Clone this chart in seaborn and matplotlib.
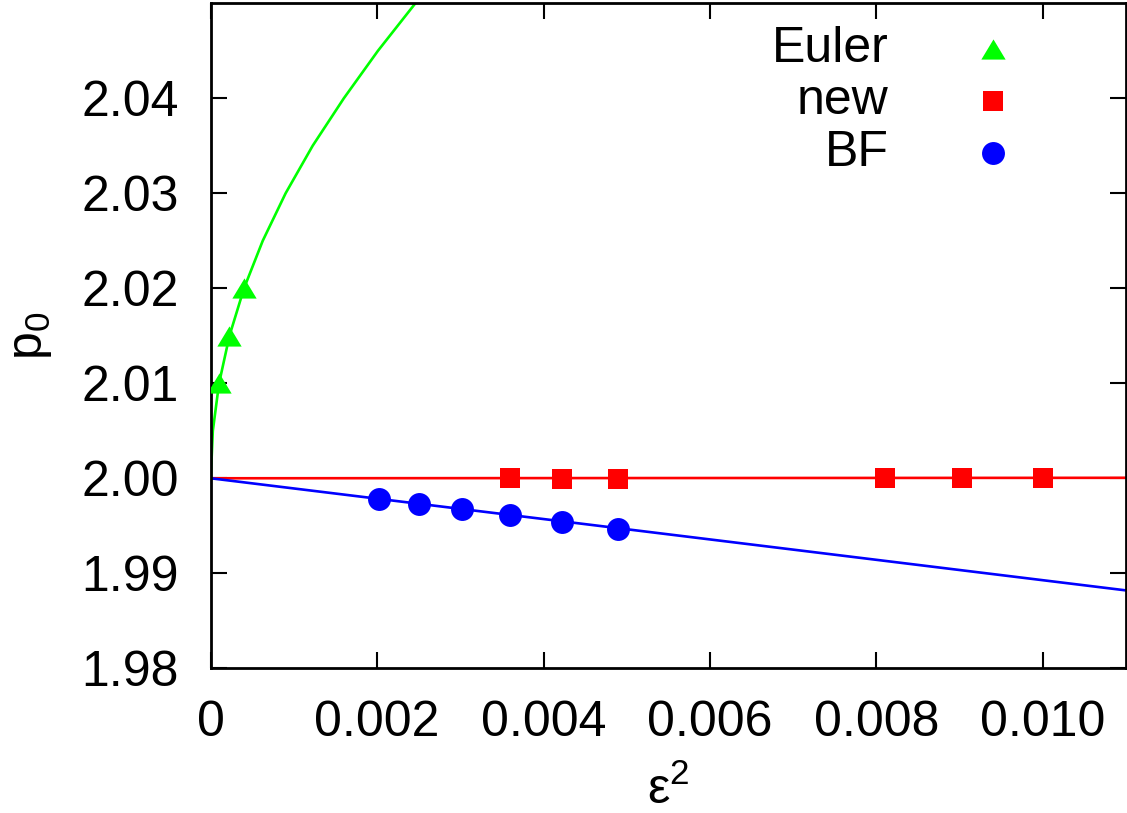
import matplotlib
matplotlib.use("Agg")
import matplotlib.pyplot as plt
import seaborn as sns

# measured points (eps^2, p0)
euler_x = [0.0001, 0.000225, 0.0004]
euler_y = [2.010, 2.015, 2.020]

new_x = [0.0036, 0.004225, 0.0049, 0.0081, 0.009025, 0.0100]
new_y = [2.0000, 1.99995, 1.99995, 2.0000, 2.0000, 2.0000]

bf_x = [0.002025, 0.0025, 0.003025, 0.0036, 0.004225, 0.0049]
bf_y = [1.99785, 1.99730, 1.99676, 1.99616, 1.99545, 1.99471]

# fit curves
euler_fit_x = [0.0, 0.000025, 0.0001, 0.000225, 0.0004, 0.000625, 0.0009,
               0.001225, 0.0016, 0.00201, 0.00246]
euler_fit_y = [2.000, 2.005, 2.010, 2.015, 2.020, 2.025, 2.030,
               2.035, 2.040, 2.045, 2.050]
new_fit_x = [0.0, 0.011]
new_fit_y = [2.0000, 2.00005]
bf_fit_x = [0.0, 0.011]
bf_fit_y = [2.0000, 1.9882]

x_ticks = [0.0, 0.002, 0.004, 0.006, 0.008, 0.010]
x_tick_labels = ["0", "0.002", "0.004", "0.006", "0.008", "0.010"]
y_ticks = [1.98, 1.99, 2.00, 2.01, 2.02, 2.03, 2.04]
y_tick_labels = ["1.98", "1.99", "2.00", "2.01", "2.02", "2.03", "2.04"]

sns.set_style("ticks")
plt.rcParams["font.family"] = ["Liberation Sans", "DejaVu Sans"]
plt.rcParams["mathtext.fontset"] = "custom"
plt.rcParams["mathtext.rm"] = "Liberation Sans"
plt.rcParams["mathtext.it"] = "Liberation Sans"
plt.rcParams["mathtext.bf"] = "Liberation Sans:bold"
plt.rcParams["text.color"] = "black"
plt.rcParams["axes.labelcolor"] = "black"

fig = plt.figure(figsize=(11.27, 8.13), dpi=100)
ax = fig.add_axes([0.187, 0.178, 0.812, 0.818])

green, red, blue = "#00ff00", "#ff0000", "#0000ff"
tri = [(0, 0.83), (-1, -0.83), (1, -0.83)]

sns.lineplot(x=euler_fit_x, y=euler_fit_y, color=green, lw=1.9, ax=ax, estimator=None)
sns.lineplot(x=new_fit_x, y=new_fit_y, color=red, lw=1.9, ax=ax, estimator=None)
sns.lineplot(x=bf_fit_x, y=bf_fit_y, color=blue, lw=1.9, ax=ax, estimator=None)

sns.scatterplot(x=euler_x, y=euler_y, marker=tri, s=17.5**2, color=green,
                linewidth=0, ax=ax, label="Euler", zorder=3)
sns.scatterplot(x=new_x, y=new_y, marker="s", s=14.5**2, color=red,
                linewidth=0, ax=ax, label="new", zorder=3)
sns.scatterplot(x=bf_x, y=bf_y, marker="o", s=16.5**2, color=blue,
                linewidth=0, ax=ax, label="BF", zorder=3)

ax.set_xlim(0, 0.011)
ax.set_ylim(1.98, 2.05)
ax.set_xticks(x_ticks, x_tick_labels)
ax.set_yticks(y_ticks, y_tick_labels)
ax.tick_params(direction="in", top=True, right=True, length=11.5, width=1.5,
               labelsize=36, colors="black")
ax.tick_params(axis="x", pad=23)
ax.tick_params(axis="y", pad=23)
for s in ax.spines.values():
    s.set_linewidth(2)
    s.set_color("black")

ax.set_xlabel("ε$^{2}$", fontsize=36, labelpad=14)
ax.set_ylabel("p$_{0}$", fontsize=36, labelpad=20)

leg = ax.legend(loc="upper right", bbox_to_anchor=(0.9335, 1.0), markerfirst=False,
                frameon=False, fontsize=36, borderaxespad=0.45, borderpad=0.0,
                handletextpad=1.08, handlelength=2.0, labelspacing=0.12,
                scatterpoints=1)
for t in leg.get_texts():
    t.set_color("black")

fig.savefig("out.png", dpi=100)
